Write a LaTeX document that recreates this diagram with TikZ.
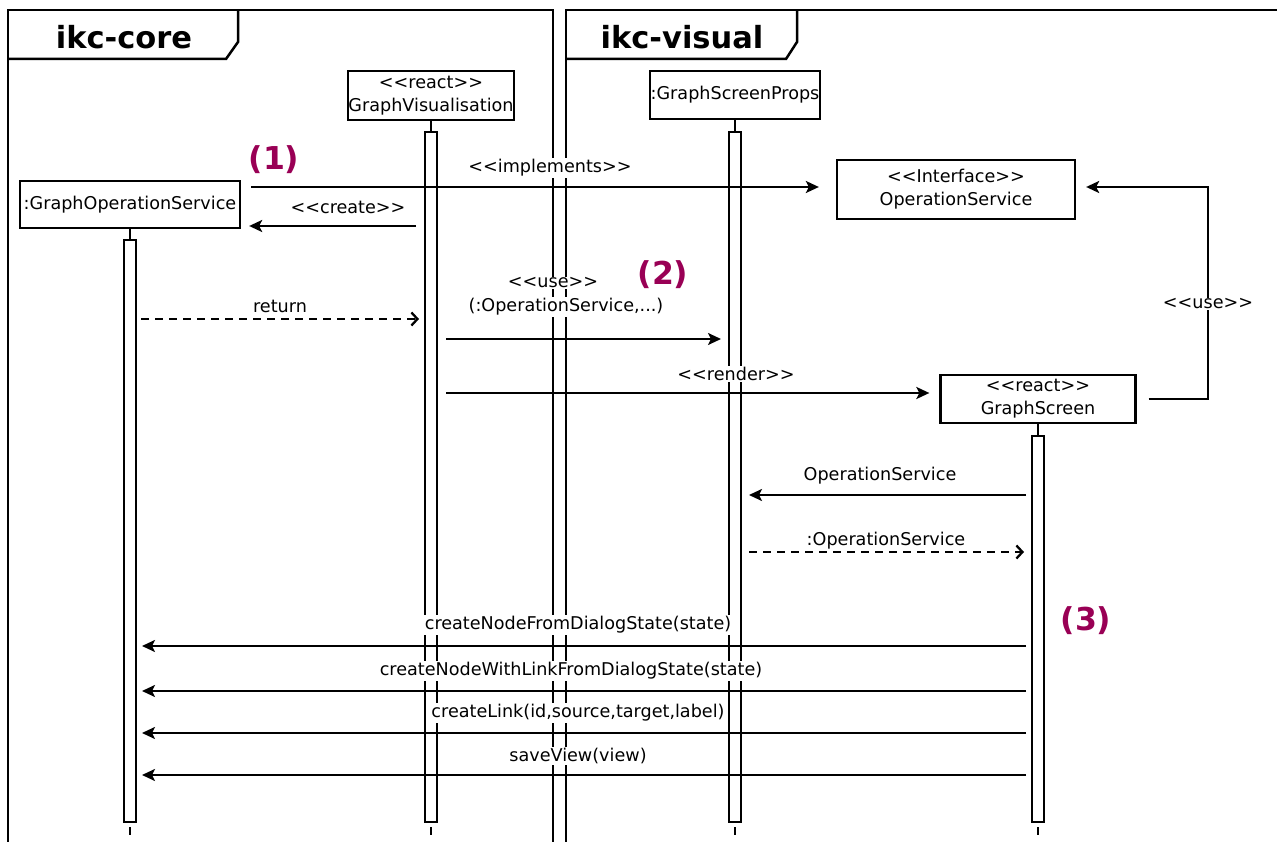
\documentclass[tikz,border=0pt]{standalone}
\usepackage{fontspec}
\setmainfont{DejaVu Sans}
\usetikzlibrary{arrows.meta}
\definecolor{stepmark}{RGB}{153,0,85}
% stereotype brackets without the << -> guillemet ligature
\newcommand{\stereo}[1]{<{}<#1>{}>}

\begin{document}
\begin{tikzpicture}[x=1pt,y=-1pt,
  every node/.style={font=\fontsize{17.6}{23}\selectfont},
  obj/.style={draw, line width=2.3pt, fill=white, inner sep=0pt, align=center},
  bar/.style={draw, line width=2pt, fill=white, minimum width=12pt, inner sep=0pt},
  life/.style={line width=2.3pt},
  msg/.style={line width=2.3pt, -{Stealth[length=13pt,width=12pt,inset=3pt]}},
  reply/.style={line width=2.3pt, dash pattern=on 8pt off 6pt, -{Straight Barb[length=6pt,width=13pt,line width=2.3pt]}},
  lbl/.style={fill=white, inner sep=1pt},
  title/.style={font=\fontsize{30.5}{34}\selectfont\bfseries},
  stepno/.style={font=\fontsize{31.5}{34}\selectfont\bfseries, text=stepmark},
  frame/.style={line width=2.5pt}
]
\useasboundingbox (0,0) rectangle (1277,842);

% package frames
\draw[frame] (8,842) -- (8,10) -- (553,10) -- (553,842);
\draw[frame] (8,59) -- (226,59) -- (238,42) -- (238,10);
\node[title] (tcore) at (124,37) {ikc-core};
\draw[frame] (566,842) -- (566,10) -- (1277,10);
\draw[frame] (566,59) -- (786,59) -- (797,42) -- (797,10);
\node[title] (tvisual) at (682,37) {ikc-visual};

% objects
\node[obj, minimum width=220pt, minimum height=47pt] (gos) at (130,204.5) {:GraphOperationService};
\node[obj, minimum width=166pt, minimum height=49pt] (gv) at (431,95.5) {\stereo{react}\\GraphVisualisation};
\node[obj, minimum width=170pt, minimum height=48pt] (gsp) at (735,95) {:GraphScreenProps};
\node[obj, minimum width=238pt, minimum height=59pt] (ops) at (956,189.5) {\stereo{Interface}\\OperationService};
\node[obj, minimum width=195pt, minimum height=48pt] (gs) at (1038,399) {\stereo{react}\\GraphScreen};

% activation bars
\node[bar, minimum height=582pt] (gosbar) at (130,531) {};
\node[bar, minimum height=690pt] (gvbar) at (431,477) {};
\node[bar, minimum height=690pt] (gspbar) at (735,477) {};
\node[bar, minimum height=386pt] (gsbar) at (1038,629) {};

% lifeline stubs
\foreach \o in {gos,gv,gsp,gs}{
  \draw[life] (\o.south) -- (\o bar.north);
  \draw[life] ([yshift=-4pt]\o bar.south) -- ([yshift=-12pt]\o bar.south);
}

% messages
\draw[msg, shorten <=10pt, shorten >=17pt] (gos.east |- 0,187) -- (ops.west |- 0,187);
\draw[msg, shorten <=8pt, shorten >=8pt] (gvbar.west |- 0,226) -- (gos.east |- 0,226);
\draw[reply, shorten <=4pt, shorten >=5pt] (gosbar.east |- 0,319) -- (gvbar.west |- 0,319);
\draw[msg, shorten <=8pt, shorten >=7pt] (gvbar.east |- 0,339) -- (gspbar.west |- 0,339);
\draw[msg, shorten <=8pt, shorten >=10pt] (gvbar.east |- 0,393) -- (gs.west |- 0,393);
\coordinate (loopx) at (1208,0);
\draw[msg, shorten <=12pt, shorten >=10pt] (gs.east) -| (loopx |- 0,187) -- (ops.east |- 0,187);
\draw[msg, shorten <=5pt, shorten >=7pt] (gsbar.west |- 0,495) -- (gspbar.east |- 0,495);
\draw[reply, shorten <=7pt, shorten >=7pt] (gspbar.east |- 0,552) -- (gsbar.west |- 0,552);
\foreach \y in {646,691,733,775}{
  \draw[msg, shorten <=5pt, shorten >=5pt] (gsbar.west |- 0,\y) -- (gosbar.east |- 0,\y);
}

% message labels
\node[lbl] (limpl) at (550,168) {\stereo{implements}};
\node[lbl] (lcreate) at (348,207) {\stereo{create}};
\node[lbl] (lreturn) at (280,306) {return};
\node[lbl] (luse) at (553,283) {\stereo{use}};
\node[lbl] (luseargs) at (566,307) {(:OperationService,...)};
\node[lbl] (lrender) at (736,374) {\stereo{render}};
\node[lbl] (luse2) at (1208,304) {\stereo{use}};
\node[lbl] (lops) at (880,476) {OperationService};
\node[lbl] (lopsret) at (886,541) {:OperationService};
\node[lbl] (lc1) at (578,625) {createNodeFromDialogState(state)};
\node[lbl] (lc2) at (571,671) {createNodeWithLinkFromDialogState(state)};
\node[lbl] (lc3) at (578,713) {createLink(id,source,target,label)};
\node[lbl] (lc4) at (578,756) {saveView(view)};

% step markers
\node[stepno] (s1) at (274,160) {(1)};
\node[stepno] (s2) at (663,275) {(2)};
\node[stepno] (s3) at (1086,621) {(3)};
\end{tikzpicture}
\end{document}
